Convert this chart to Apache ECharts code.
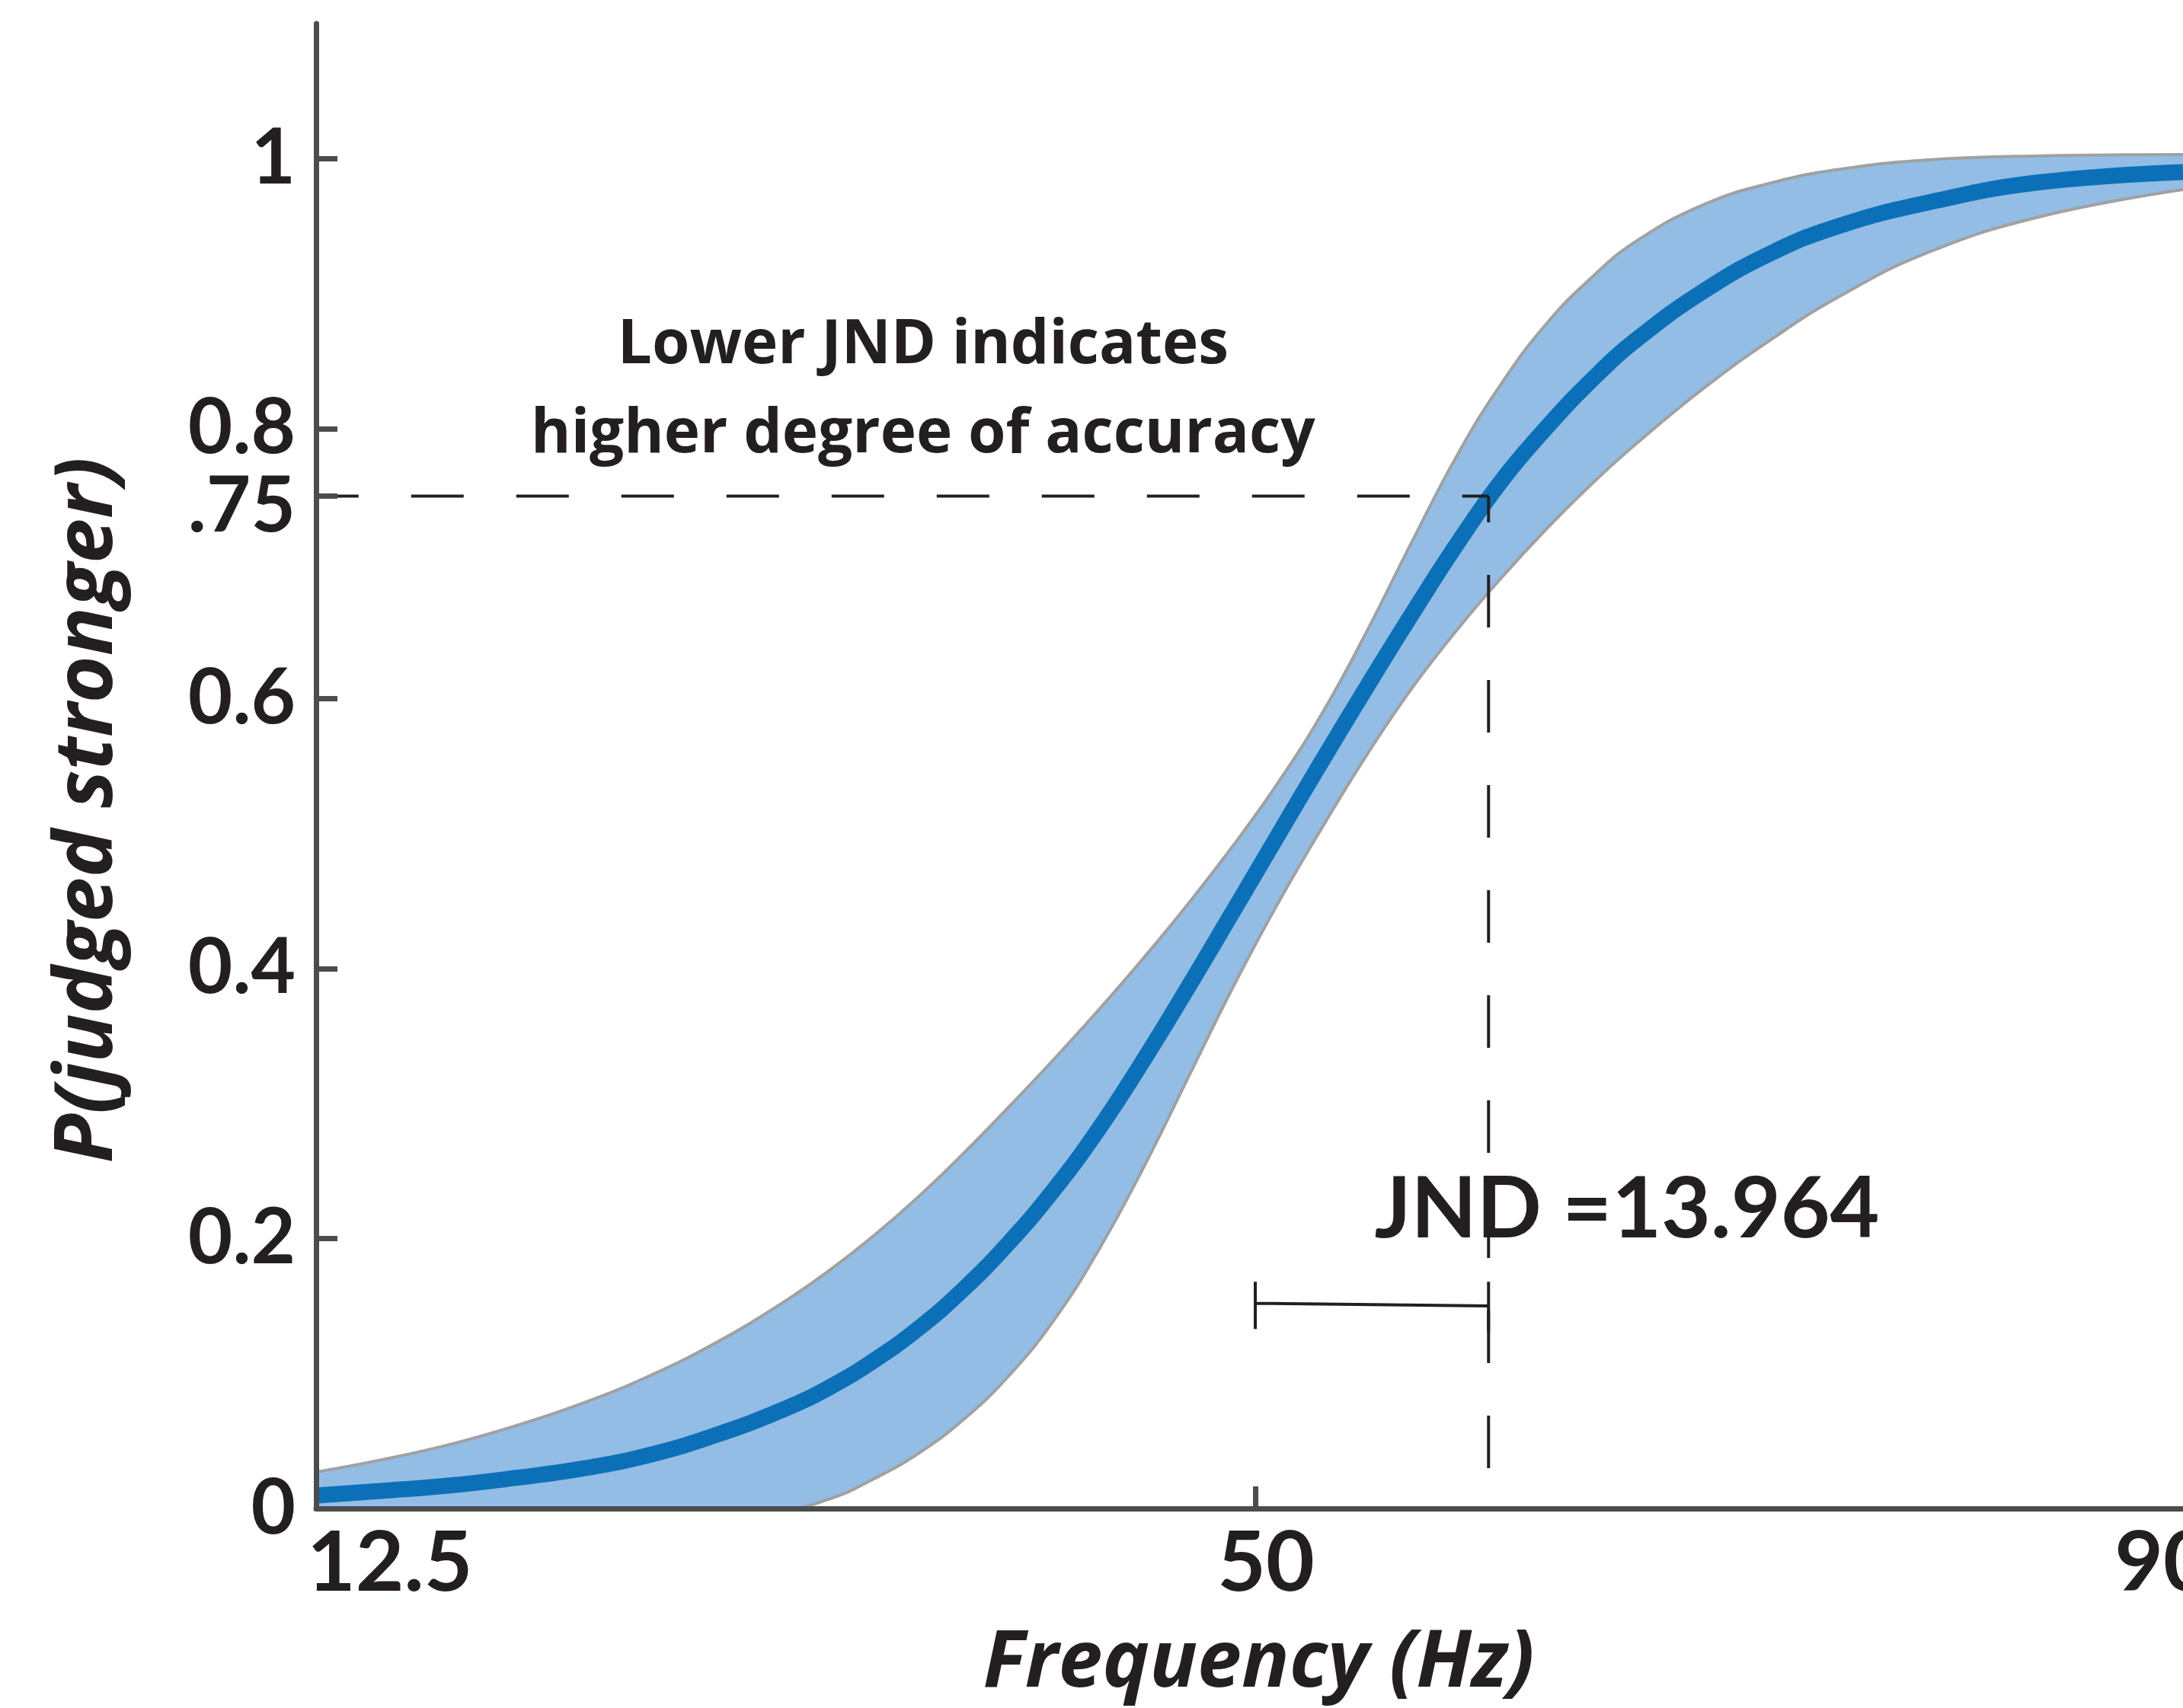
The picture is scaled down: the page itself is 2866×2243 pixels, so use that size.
<!DOCTYPE html>
<html>
<head>
<meta charset="utf-8">
<script src="https://cdn.jsdelivr.net/npm/echarts@6/dist/echarts.min.js"></script>
<style>
  html, body { margin: 0; padding: 0; background: #fff; }
  #chart { width: 2866px; height: 2243px; }
</style>
</head>
<body>
<div id="chart"></div>
<script>
// frequency samples (Hz) and the three curves
const freqs = [8.13, 11, 14, 17, 20, 23, 26, 29, 31, 33, 35, 37, 39, 41, 43, 45, 47, 49,
  51, 53, 55, 57, 59, 61, 63, 65, 67, 70, 73, 76, 80, 85, 91.36];
const fitCurve = [0.0096, 0.013, 0.0169, 0.0226, 0.0295, 0.0397, 0.0547, 0.0736, 0.0896, 0.1096,
  0.1336, 0.1626, 0.1966, 0.2356, 0.2806, 0.3316, 0.386, 0.442, 0.4984, 0.5544, 0.6094, 0.663,
  0.7146, 0.7618, 0.801, 0.836, 0.866, 0.902, 0.930, 0.950, 0.9675, 0.9825, 0.990];
const upperBound = [0.027, 0.0359, 0.047, 0.0611, 0.0779, 0.0983, 0.1232, 0.1532, 0.1762, 0.2022,
  0.2312, 0.2632, 0.2972, 0.3324, 0.369, 0.4074, 0.4478, 0.4908, 0.5372, 0.5896, 0.6506, 0.7166,
  0.7802, 0.834, 0.878, 0.912, 0.939, 0.966, 0.982, 0.992, 0.999, 1.002, 1.003];
const lowerBound = [0, 0, 0, 0, 0, 0, 0, 0, 0.007, 0.022,
  0.041, 0.066, 0.098, 0.139, 0.191, 0.252, 0.319, 0.386, 0.448, 0.505, 0.559, 0.608,
  0.651, 0.690, 0.726, 0.759, 0.789, 0.830, 0.866, 0.8975, 0.9305, 0.957, 0.977];

const xTickLabels = [12.5, 50, 90];
const xTicks = [50];
const yTickLabels = [0, 0.2, 0.4, 0.6, 0.75, 0.8, 1];

// JND annotation
const threshold = 0.75;
const jndFreq = 60.4;
const bracketStart = 50;
const bracketY = [0.152, 0.150];
const bracketCaps = [[0.168, 0.133], [0.168, 0.131]];
const jndText = 'JND =13.964';
const jndTextPos = [66.57, 0.221];
const noteText = ['Lower JND indicates', 'higher degree of accuracy'];
const noteTextPos = [35.19, 0.828];

const xMin = freqs[0];
const xMax = freqs[freqs.length - 1];

const ink = '#231f20';
const axisColor = '#4b4c4e';
const font = 'Lato';
const nameFont = 'Open Sans';

const chart = echarts.init(document.getElementById('chart'));

const pairs = arr => freqs.map((f, i) => [f, arr[i]]);
const curve = { smooth: 0.45, symbol: 'none', silent: true };
const dash = { color: ink, width: 4, type: [69, 69], dashOffset: 34.5 };

const option = {
  animation: false,
  backgroundColor: '#fff',
  grid: { left: 415, right: 0, top: 31, bottom: 262, outerBoundsMode: 'none' },
  xAxis: {
    type: 'value',
    min: xMin,
    max: xMax,
    z: 10,
    name: 'Frequency (Hz)',
    nameLocation: 'middle',
    nameGap: 152,
    nameTextStyle: {
      fontFamily: nameFont, fontSize: 104, fontWeight: 'bold', fontStyle: 'italic',
      color: ink, padding: [0, 0, 0, 24]
    },
    axisLine: { onZero: false, lineStyle: { color: axisColor, width: 7 } },
    axisTick: {
      inside: true, length: 29, customValues: xTicks,
      lineStyle: { color: axisColor, width: 7 }
    },
    axisLabel: {
      customValues: xTickLabels,
      margin: 18,
      formatter: v => (v === 12.5 ? '{a|' + v + '}' : '{b|' + v + '}'),
      rich: {
        a: { fontFamily: font, fontSize: 110, fontWeight: 'bold', color: ink, padding: [0, 64, 0, 0] },
        b: { fontFamily: font, fontSize: 110, fontWeight: 'bold', color: ink, padding: [0, 0, 0, 28] }
      }
    },
    splitLine: { show: false }
  },
  yAxis: {
    type: 'value',
    min: 0,
    max: 1.1,
    z: 10,
    name: 'P(judged stronger)',
    nameLocation: 'middle',
    nameGap: 245,
    nameTextStyle: {
      fontFamily: nameFont, fontSize: 106, fontWeight: 'bold', fontStyle: 'italic',
      color: ink, padding: [0, 116, 0, 0]
    },
    axisLine: { onZero: false, lineStyle: { color: axisColor, width: 7 } },
    axisTick: {
      inside: true, length: 28, customValues: yTickLabels,
      lineStyle: { color: axisColor, width: 7 }
    },
    axisLabel: {
      customValues: yTickLabels,
      margin: 27,
      fontFamily: font, fontSize: 101, fontWeight: 'bold', color: ink,
      formatter: v => (v === 0.75 ? '{d|.75}' : String(v)),
      rich: {
        d: { fontFamily: font, fontSize: 101, fontWeight: 'bold', color: ink, padding: [28, 0, 0, 0] }
      }
    },
    splitLine: { show: false }
  },
  series: [
    {
      // band: fill under the upper bound ...
      name: 'upper', type: 'line', data: pairs(upperBound), ...curve,
      lineStyle: { color: '#a0a1a3', width: 4 },
      areaStyle: { color: '#93bde4', opacity: 1 }, z: 1
    },
    {
      // ... then blank out everything under the lower bound
      name: 'lower', type: 'line', data: pairs(lowerBound), ...curve,
      lineStyle: { color: '#a0a1a3', width: 4 },
      areaStyle: { color: '#ffffff', opacity: 1 }, z: 2
    },
    {
      name: 'fit', type: 'line', data: pairs(fitCurve), ...curve,
      lineStyle: { color: '#0b70b8', width: 21 }, z: 3
    },
    {
      name: 'hline', type: 'line', data: [[jndFreq, threshold], [xMin, threshold]],
      symbol: 'none', lineStyle: dash, silent: true, z: 4
    },
    {
      name: 'vline', type: 'line', data: [[jndFreq, threshold], [jndFreq, 0]],
      symbol: 'none', lineStyle: dash, silent: true, z: 4
    },
    {
      name: 'bracket', type: 'line', symbol: 'none', silent: true, z: 4,
      connectNulls: false,
      lineStyle: { color: ink, width: 4 },
      data: [
        [bracketStart, bracketCaps[0][0]], [bracketStart, bracketCaps[0][1]], [bracketStart, '-'],
        [bracketStart, bracketY[0]], [jndFreq, bracketY[1]], [jndFreq, '-'],
        [jndFreq, bracketCaps[1][0]], [jndFreq, bracketCaps[1][1]]
      ]
    },
    {
      name: 'notes', type: 'scatter', symbolSize: 0, silent: true, z: 6,
      itemStyle: { opacity: 1 },
      data: [
        { value: jndTextPos, label: { formatter: jndText, fontFamily: font, fontSize: 112, lineHeight: 112 } },
        { value: noteTextPos, label: { formatter: noteText.join('\n'), fontFamily: nameFont, fontSize: 80, lineHeight: 117 } }
      ],
      label: {
        show: true, position: 'inside', align: 'center', verticalAlign: 'middle',
        fontWeight: 'bold', color: ink
      }
    }
  ]
};

chart.setOption(option);
</script>
</body>
</html>
